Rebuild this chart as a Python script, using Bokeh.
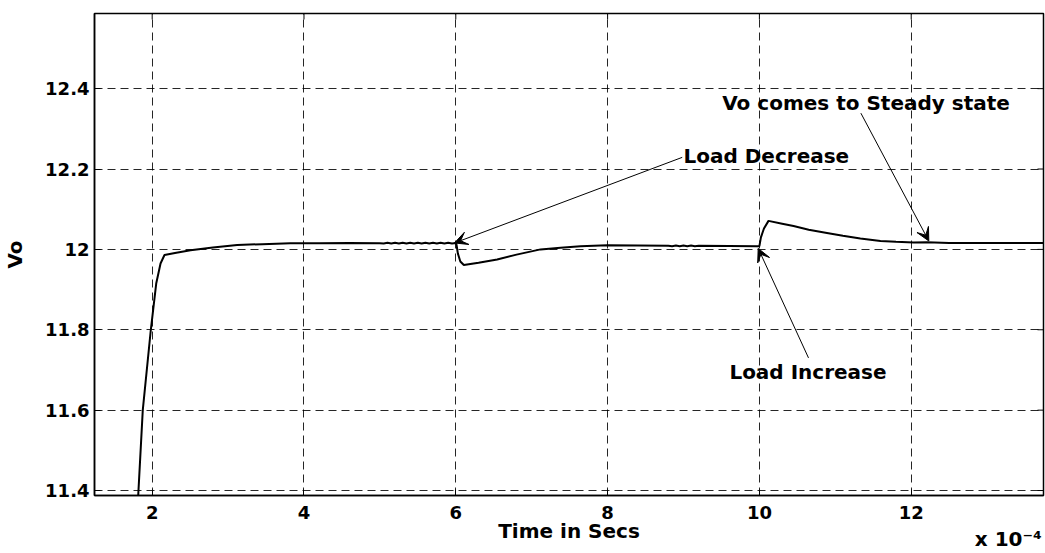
import math
from bokeh.plotting import figure
from bokeh.models import (Range1d, FixedTicker, Label, Arrow, VeeHead, LinearAxis)
from bokeh.embed import file_html
from bokeh.resources import INLINE

# ---------------- data (time in units of 1e-4 s) ----------------
time_e4 = [1.78, 1.816, 1.876, 1.982, 2.053, 2.11, 2.162, 2.30, 2.505, 2.80, 3.12, 3.45, 3.82,
           4.20, 4.60, 5.00,
           5.05, 5.10, 5.15, 5.20, 5.25, 5.30, 5.35, 5.40, 5.45, 5.50,
           5.55, 5.60, 5.65, 5.70, 5.75, 5.80, 5.85, 5.90, 5.95, 6.00,
           6.01, 6.027, 6.06, 6.106, 6.30, 6.545, 6.80, 7.116, 7.38, 7.643, 7.995, 8.40, 8.80,
           8.85, 8.90, 8.95, 9.00, 9.05, 9.10, 9.15, 9.20,
           9.60, 9.97, 10.00, 10.02, 10.06, 10.12, 10.30, 10.45, 10.65, 10.89, 11.10, 11.33,
           11.595, 11.80, 12.03, 12.21, 12.50, 13.00, 13.743]
vo = [11.33, 11.388, 11.60, 11.80, 11.915, 11.965, 11.986, 11.991, 11.998, 12.005, 12.011, 12.013, 12.015,
      12.0155, 12.016, 12.0155,
      12.0145, 12.0165, 12.0145, 12.0165, 12.0145, 12.0165, 12.0145, 12.0165, 12.0145, 12.0165,
      12.0145, 12.0165, 12.0145, 12.0165, 12.0145, 12.0165, 12.0145, 12.0165, 12.0145, 12.0160,
      12.011, 11.990, 11.970, 11.961, 11.967, 11.975, 11.987, 12.000, 12.004, 12.008, 12.0105, 12.010, 12.009,
      12.0080, 12.0096, 12.0080, 12.0096, 12.0080, 12.0096, 12.0080, 12.0090,
      12.0085, 12.008, 12.008, 12.030, 12.052, 12.071, 12.064, 12.058, 12.049, 12.041, 12.034, 12.027,
      12.021, 12.019, 12.017, 12.018, 12.016, 12.016, 12.016]

x_ticks = [2, 4, 6, 8, 10, 12]
y_ticks = [11.4, 11.6, 11.8, 12.0, 12.2, 12.4]
y_tick_labels = ["11.4", "11.6", "11.8", "12", "12.2", "12.4"]
x_scale_note = "x 10\u207b\u2074"
x_scale_note_pos = 13.28

# annotations: text, anchor x, anchor y  /  arrow start -> end
note_texts = ["Load Decrease", "Load Increase", "Vo comes to Steady state"]
note_x = [9.00, 10.64, 13.30]
note_y = [12.232, 11.695, 12.364]
note_align = ["left", "center", "right"]
arrow_x_start = [8.983, 10.647, 11.337]
arrow_y_start = [12.229, 11.730, 12.339]
arrow_x_end = [5.983, 9.984, 12.232]
arrow_y_end = [12.016, 12.0025, 12.021]

X_MIN, X_MAX = 1.24, 13.743
Y_MIN, Y_MAX = 11.3876, 12.587
FONT = "DejaVu Sans"

p = figure(width=1045, height=553, output_backend="svg", toolbar_location=None,
           x_range=Range1d(X_MIN, X_MAX), y_range=Range1d(Y_MIN, Y_MAX),
           min_border_left=94, min_border_right=2, min_border_top=13, min_border_bottom=58)
p.background_fill_color = "white"
p.border_fill_color = "white"
p.outline_line_color = "black"
p.outline_line_width = 1.5

p.line(time_e4, vo, line_color="black", line_width=2)

# grid
for g in (p.xgrid, p.ygrid):
    g.grid_line_color = "black"
    g.grid_line_alpha = 0.85
    g.grid_line_dash = "8 5"
    g.grid_line_width = 1
p.xgrid.ticker = FixedTicker(ticks=x_ticks)
p.ygrid.ticker = FixedTicker(ticks=y_ticks)

# inward tick marks on top and right edges (boxed axes)
p.ray(x=x_ticks, y=[Y_MAX] * len(x_ticks), length=6, length_units="screen",
      angle=-math.pi / 2, line_color="black", line_width=1)
p.ray(x=[X_MAX] * len(y_ticks), y=y_ticks, length=6, length_units="screen",
      angle=math.pi, line_color="black", line_width=1)

# axes
xa = p.xaxis[0]
ya = p.yaxis[0]
xa.ticker = FixedTicker(ticks=x_ticks)
ya.ticker = FixedTicker(ticks=y_ticks)
ya.major_label_overrides = {t: l for t, l in zip(y_ticks, y_tick_labels)}
for ax in (xa, ya):
    ax.major_tick_in = 6
    ax.major_tick_out = 0
    ax.minor_tick_line_color = None
    ax.axis_line_color = "black"
    ax.axis_line_width = 1.5
    ax.major_tick_line_color = "black"
    ax.major_label_text_font = FONT
    ax.major_label_text_font_style = "bold"
    ax.major_label_text_font_size = "18px"
    ax.major_label_text_color = "black"
    ax.axis_label_text_font = FONT
    ax.axis_label_text_font_style = "bold"
    ax.axis_label_text_font_size = "20px"
    ax.axis_label_text_color = "black"
xa.axis_label = "Time in Secs"
xa.major_label_standoff = 10
xa.axis_label_standoff = -3
ya.axis_label = "Vo"
ya.major_label_standoff = 5
ya.axis_label_standoff = 15

# scale note "x 10^-4" shown under the right end of the x axis
xa2 = LinearAxis(ticker=FixedTicker(ticks=[x_scale_note_pos]),
                 major_label_overrides={x_scale_note_pos: x_scale_note},
                 axis_line_color=None, major_tick_line_color=None, minor_tick_line_color=None,
                 major_tick_in=0, major_tick_out=0, major_label_standoff=-19,
                 major_label_text_font=FONT, major_label_text_font_style="bold",
                 major_label_text_font_size="20px", major_label_text_color="black")
p.add_layout(xa2, "below")

# annotations
for txt, x, y, al in zip(note_texts, note_x, note_y, note_align):
    p.add_layout(Label(x=x, y=y, text=txt, text_align=al, text_baseline="middle",
                       text_font=FONT, text_font_style="bold", text_font_size="20px",
                       text_color="black"))
for xs, ys, xe, ye in zip(arrow_x_start, arrow_y_start, arrow_x_end, arrow_y_end):
    p.add_layout(Arrow(x_start=xs, y_start=ys, x_end=xe, y_end=ye, line_width=1,
                       line_color="black",
                       end=VeeHead(size=13, fill_color="black", line_color="black")))

open("out.html", "w").write(file_html(p, INLINE))
